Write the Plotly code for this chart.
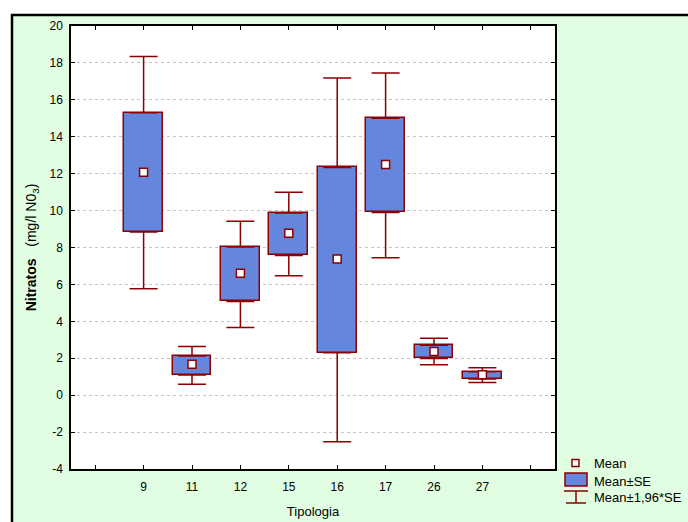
import plotly.graph_objects as go

categories = ["9", "11", "12", "15", "16", "17", "26", "27"]
means = [12.07, 1.67, 6.60, 8.77, 7.38, 12.50, 2.37, 1.11]
se_low = [8.84, 1.09, 5.08, 7.57, 2.30, 9.90, 1.99, 0.88]
se_high = [15.30, 2.12, 8.03, 9.87, 12.34, 15.00, 2.70, 1.27]
ci_low = [5.77, 0.59, 3.67, 6.47, -2.52, 7.45, 1.65, 0.69]
ci_high = [18.35, 2.64, 9.42, 10.99, 17.18, 17.45, 3.08, 1.49]
y_ticks = [-4, -2, 0, 2, 4, 6, 8, 10, 12, 14, 16, 18, 20]

pos = list(range(1, len(categories) + 1))
RED = "#8B0000"
BLUE = "#6486DD"
GREEN = "#E2FEE2"
FONT = "Liberation Sans, Arial, sans-serif"

fig = go.Figure()

fig.add_trace(go.Scatter(
    x=pos, y=se_high, mode="markers", marker=dict(size=1, opacity=0),
    error_y=dict(type="data", symmetric=False,
                 array=[h - t for h, t in zip(ci_high, se_high)],
                 arrayminus=[0] * len(pos), color=RED, thickness=1.5, width=14),
    showlegend=False, hoverinfo="skip"))
fig.add_trace(go.Scatter(
    x=pos, y=se_low, mode="markers", marker=dict(size=1, opacity=0),
    error_y=dict(type="data", symmetric=False,
                 array=[0] * len(pos),
                 arrayminus=[b - l for b, l in zip(se_low, ci_low)],
                 color=RED, thickness=1.5, width=14),
    showlegend=False, hoverinfo="skip"))

fig.add_trace(go.Bar(
    x=pos, base=se_low, y=[h - l for h, l in zip(se_high, se_low)],
    width=0.8, marker=dict(color=BLUE, line=dict(color=RED, width=1.5)),
    showlegend=False))

fig.add_trace(go.Scatter(
    x=pos, y=means, mode="markers",
    marker=dict(symbol="square", size=8, color="white", line=dict(color=RED, width=1.5)),
    showlegend=False))

def px2paper_x(px):
    return (px - 71) / 484

def px2paper_y(py):
    return (469 - py) / 443

shapes = [
    dict(type="rect", xref="paper", yref="paper", layer="below",
         x0=px2paper_x(12), x1=px2paper_x(700), y0=px2paper_y(530), y1=px2paper_y(15),
         fillcolor=GREEN, line=dict(color="black", width=2.5)),
    dict(type="rect", xref="paper", yref="paper", layer="below",
         x0=0, x1=1, y0=0, y1=1, fillcolor="white", line=dict(width=0)),
    dict(type="rect", xref="paper", yref="paper",
         x0=px2paper_x(572), x1=px2paper_x(579), y0=px2paper_y(466.5), y1=px2paper_y(459.5),
         fillcolor="white", line=dict(color=RED, width=1.5)),
    dict(type="rect", xref="paper", yref="paper",
         x0=px2paper_x(565), x1=px2paper_x(587), y0=px2paper_y(486), y1=px2paper_y(473),
         fillcolor=BLUE, line=dict(color=RED, width=1.5)),
    dict(type="line", xref="paper", yref="paper",
         x0=px2paper_x(564), x1=px2paper_x(588), y0=px2paper_y(491), y1=px2paper_y(491),
         line=dict(color=RED, width=1.5)),
    dict(type="line", xref="paper", yref="paper",
         x0=px2paper_x(576), x1=px2paper_x(576), y0=px2paper_y(491), y1=px2paper_y(503),
         line=dict(color=RED, width=1.5)),
    dict(type="line", xref="paper", yref="paper",
         x0=px2paper_x(566), x1=px2paper_x(586), y0=px2paper_y(503), y1=px2paper_y(503),
         line=dict(color=RED, width=1.5)),
]

legend_texts = [("Mean", 463), ("Mean±SE", 481), ("Mean±1,96*SE", 497)]
annotations = [
    dict(text=t, xref="paper", yref="paper", x=px2paper_x(592), y=px2paper_y(py),
         xanchor="left", yanchor="middle", showarrow=False,
         font=dict(family=FONT, size=13, color="black"))
    for t, py in legend_texts
]

fig.update_layout(
    width=688, height=522,
    margin=dict(l=71, r=133, t=26, b=53),
    paper_bgcolor="white", plot_bgcolor="rgba(0,0,0,0)",
    font=dict(family=FONT, size=12, color="black"),
    shapes=shapes, annotations=annotations,
    showlegend=False, bargap=0,
    xaxis=dict(
        range=[-0.5, 9.5], tickmode="array", tickvals=pos, ticktext=categories,
        ticks="inside", ticklen=4, tickcolor="black", showgrid=False,
        minor=dict(ticks="inside", ticklen=4, tickcolor="black", dtick=1, tick0=0,
                   showgrid=False),
        showline=True, linecolor="black", linewidth=1.5, mirror="ticks",
        zeroline=False, ticklabelstandoff=6, automargin=False,
        title=dict(text="Tipologia", font=dict(family=FONT, size=13), standoff=14),
    ),
    yaxis=dict(
        range=[-4, 20], tickmode="array", tickvals=y_ticks,
        ticktext=[str(v) for v in y_ticks],
        ticks="inside", ticklen=4, tickcolor="black",
        showgrid=True, gridcolor="#C4C4C4", griddash="dot", gridwidth=1,
        showline=True, linecolor="black", linewidth=1.5, mirror="ticks",
        zeroline=False, ticklabelstandoff=4, automargin=False,
        title=dict(text="<b>Nitratos</b>   (mg/l N0<sub>3</sub>)",
                   font=dict(family=FONT, size=14), standoff=10),
    ),
)

fig.write_html("out.html", post_script="document.body.style.margin='0';",
               config={"displayModeBar": False})
